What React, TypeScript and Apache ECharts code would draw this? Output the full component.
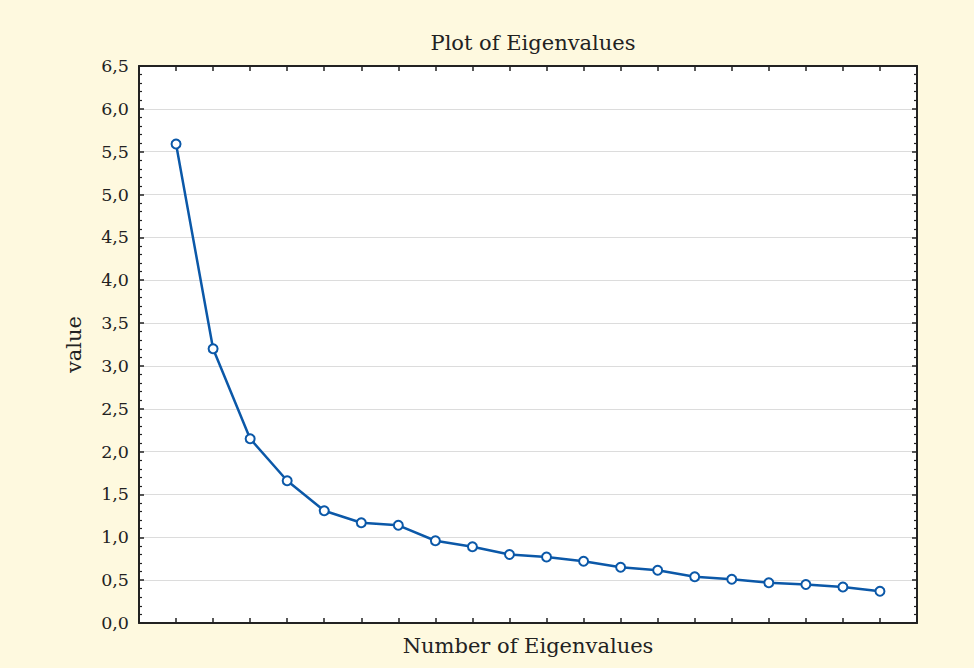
import React, { useEffect, useRef } from "react";
import * as echarts from "echarts";

const eigenIndex = [1, 2, 3, 4, 5, 6, 7, 8, 9, 10, 11, 12, 13, 14, 15, 16, 17, 18, 19, 20];
const eigenValues = [5.59, 3.2, 2.15, 1.66, 1.31, 1.17, 1.14, 0.96, 0.89, 0.8, 0.77, 0.72, 0.65, 0.615, 0.54, 0.51, 0.47, 0.45, 0.42, 0.37];
const titleText = "Plot of Eigenvalues";
const xName = "Number of Eigenvalues";
const yName = "value";

const FONT = "'DejaVu Serif', serif";

export default function App() {
  const ref = useRef<HTMLDivElement>(null);
  useEffect(() => {
    document.body.style.margin = "0";
    const chart = echarts.init(ref.current!, null, { renderer: "svg" });
    const xBase = {
      type: "value",
      min: 0,
      max: 21,
      interval: 1,
      axisLine: { show: true, onZero: false, lineStyle: { color: "#222", width: 2 } },
      axisTick: { show: true, inside: true, length: 5, lineStyle: { color: "#222", width: 1.5 } },
      axisLabel: { show: false },
      splitLine: { show: false },
    };
    const yBase = {
      type: "value",
      min: 0,
      max: 6.5,
      interval: 0.5,
      axisLine: { show: true, onZero: false, lineStyle: { color: "#222", width: 2 } },
      axisTick: { show: true, inside: true, length: 5, lineStyle: { color: "#222", width: 1.5 } },
      minorTick: { show: true, splitNumber: 5, length: 3, lineStyle: { color: "#222", width: 1.2 } },
    };
    chart.setOption({
      animation: false,
      backgroundColor: "#FEF9DF",
      title: {
        text: titleText,
        left: 528,
        top: 27,
        textAlign: "center",
        textStyle: { fontFamily: FONT, fontSize: 21, fontWeight: "normal", color: "#222" },
      },
      grid: { left: 139, right: 57, top: 66, bottom: 45, show: true, backgroundColor: "#ffffff", borderWidth: 0 },
      xAxis: [
        {
          ...xBase,
          position: "bottom",
          name: xName,
          nameLocation: "middle",
          nameGap: 12,
          nameTextStyle: { fontFamily: FONT, fontSize: 21, color: "#222", verticalAlign: "top" },
        },
        { ...xBase, position: "top" },
      ],
      yAxis: [
        {
          ...yBase,
          position: "left",
          name: yName,
          nameLocation: "middle",
          nameGap: 55,
          nameTextStyle: { fontFamily: FONT, fontSize: 21, color: "#222" },
          axisLabel: {
            show: true,
            margin: 10,
            fontFamily: FONT,
            fontSize: 17.5,
            color: "#222",
            formatter: (v: number) => v.toFixed(1).replace(".", ","),
          },
          splitLine: { show: true, lineStyle: { color: "#dcdcdc", width: 1 } },
        },
        {
          ...yBase,
          position: "right",
          axisLabel: { show: false },
          splitLine: { show: false },
        },
      ],
      series: [
        {
          type: "line",
          data: eigenIndex.map((x, i) => [x, eigenValues[i]]),
          symbol: "emptyCircle",
          symbolSize: 9,
          lineStyle: { color: "#0B58A8", width: 2.5 },
          itemStyle: { color: "#0B58A8", borderWidth: 2.6, borderColor: "#0B58A8" },
        },
      ],
    });
    return () => chart.dispose();
  }, []);
  return <div ref={ref} style={{ width: 974, height: 668 }} />;
}
